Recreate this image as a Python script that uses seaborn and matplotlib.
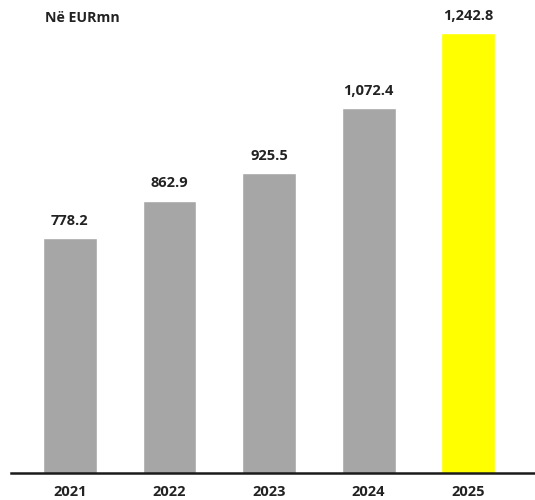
import matplotlib
matplotlib.use("Agg")
import matplotlib.pyplot as plt
import seaborn as sns
import pandas as pd

years = ["2021", "2022", "2023", "2024", "2025"]
values = [778.2, 862.9, 925.5, 1072.4, 1242.8]
bar_colors = ["#a6a6a6", "#a6a6a6", "#a6a6a6", "#a6a6a6", "#ffff00"]
unit_label = "Në EURmn"

sns.set_theme(style="white")
plt.rcParams["font.family"] = ["Open Sans", "DejaVu Sans"]

df = pd.DataFrame({"year": years, "value": values})

fig = plt.figure(figsize=(5.35, 5.0), dpi=100)
ax = fig.add_axes([0.0206, 0.054, 0.9794, 0.946])

sns.barplot(data=df, x="year", y="value", hue="year",
            palette=dict(zip(years, bar_colors)), legend=False,
            width=0.54, saturation=1, ax=ax)

ax.set_xlim(-0.59, 4.67)
ax.set_ylim(245.6, 1317.6)

for i, v in enumerate(values):
    ax.annotate(f"{v:,.1f}", (i, v), xytext=(0, 7.5), textcoords="offset points",
                ha="center", va="bottom", fontsize=10.5, fontweight="bold",
                color="#222222")

ax.set_xlabel("")
ax.set_ylabel("")
ax.set_yticks([])
ax.tick_params(axis="x", length=0, pad=9, labelsize=10.5, labelcolor="#222222")
for lbl in ax.get_xticklabels():
    lbl.set_fontweight("bold")

for side in ["top", "right", "left"]:
    ax.spines[side].set_visible(False)
ax.spines["bottom"].set_color("#1a1a1a")
ax.spines["bottom"].set_linewidth(1.8)

fig.text(45 / 535, 1 - 18 / 500, unit_label, ha="left", va="center",
         fontsize=10.2, fontweight="bold", color="#222222")

fig.savefig("out.png", dpi=100)
